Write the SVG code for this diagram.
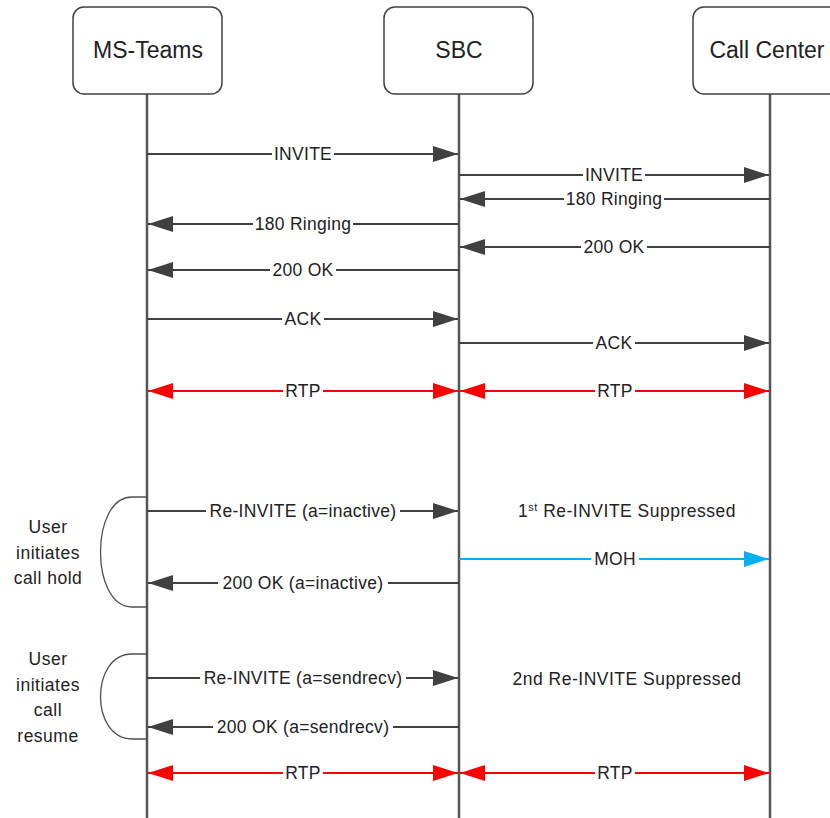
<svg xmlns="http://www.w3.org/2000/svg" width="830" height="818" viewBox="0 0 830 818">
<defs>
<marker id="ag" viewBox="0 0 25 16" refX="25" refY="8" markerWidth="25" markerHeight="16" markerUnits="userSpaceOnUse" orient="auto-start-reverse"><path d="M0,0 L25,8 L0,16 z" fill="#404040"/></marker>
<marker id="ar" viewBox="0 0 25 16" refX="25" refY="8" markerWidth="25" markerHeight="16" markerUnits="userSpaceOnUse" orient="auto-start-reverse"><path d="M0,0 L25,8 L0,16 z" fill="#ff0000"/></marker>
<marker id="ab" viewBox="0 0 25 16" refX="25" refY="8" markerWidth="25" markerHeight="16" markerUnits="userSpaceOnUse" orient="auto-start-reverse"><path d="M0,0 L25,8 L0,16 z" fill="#00b0f0"/></marker>
</defs>
<style>
.box{fill:#fff;stroke:#404040;stroke-width:1.5}
.life{stroke:#555;stroke-width:2.5}
.msg{stroke:#404040;stroke-width:2;fill:none}
.rtp{stroke:#ff0000;stroke-width:2;fill:none}
.moh{stroke:#00b0f0;stroke-width:2;fill:none}
.brace{stroke:#505050;stroke-width:1.3;fill:none}
.bg{fill:#fff}
text{font-family:"Liberation Sans","Open Sans",sans-serif;fill:#222}
.title{font-size:23px;text-anchor:middle}
.lbl{font-size:17.5px;text-anchor:middle;letter-spacing:0.3px}
.note{font-size:17.5px;text-anchor:middle;letter-spacing:0.5px}
</style>
<rect width="830" height="818" fill="#fff"/>
<g id="lifelines">
<line class="life" x1="147" y1="93" x2="147" y2="818"/>
<line class="life" x1="459" y1="93" x2="459" y2="818"/>
<line class="life" x1="770" y1="93" x2="770" y2="818"/>
</g>
<g id="ms-teams"><rect class="box" x="73" y="7" width="149" height="87" rx="11"/><text class="title" x="148" y="58">MS-Teams</text></g>
<g id="sbc"><rect class="box" x="384" y="7" width="149" height="87" rx="11"/><text class="title" x="459" y="58">SBC</text></g>
<g id="call-center"><rect class="box" x="693" y="7" width="149" height="87" rx="11"/><text class="title" x="767" y="58">Call Center</text></g>
<g id="connectors">
<line class="msg" x1="147" y1="154" x2="458" y2="154" marker-end="url(#ag)"/>
<rect class="bg" x="272" y="146" width="62" height="16"/><text class="lbl" x="303" y="160">INVITE</text>
<line class="msg" x1="459" y1="175" x2="769" y2="175" marker-end="url(#ag)"/>
<rect class="bg" x="583" y="167" width="62" height="16"/><text class="lbl" x="614" y="181">INVITE</text>
<line class="msg" x1="770" y1="199" x2="460" y2="199" marker-end="url(#ag)"/>
<rect class="bg" x="564" y="191" width="100" height="16"/><text class="lbl" x="614" y="205">180 Ringing</text>
<line class="msg" x1="459" y1="224" x2="148" y2="224" marker-end="url(#ag)"/>
<rect class="bg" x="253" y="216" width="100" height="16"/><text class="lbl" x="303" y="230">180 Ringing</text>
<line class="msg" x1="770" y1="247" x2="460" y2="247" marker-end="url(#ag)"/>
<rect class="bg" x="581" y="239" width="66" height="16"/><text class="lbl" x="614" y="253">200 OK</text>
<line class="msg" x1="459" y1="270" x2="148" y2="270" marker-end="url(#ag)"/>
<rect class="bg" x="270" y="262" width="66" height="16"/><text class="lbl" x="303" y="276">200 OK</text>
<line class="msg" x1="147" y1="319" x2="458" y2="319" marker-end="url(#ag)"/>
<rect class="bg" x="282" y="311" width="42" height="16"/><text class="lbl" x="303" y="325">ACK</text>
<line class="msg" x1="459" y1="343" x2="769" y2="343" marker-end="url(#ag)"/>
<rect class="bg" x="593" y="335" width="42" height="16"/><text class="lbl" x="614" y="349">ACK</text>
<line class="rtp" x1="148" y1="391" x2="458" y2="391" marker-start="url(#ar)" marker-end="url(#ar)"/>
<rect class="bg" x="283" y="383" width="40" height="16"/><text class="lbl" x="303" y="397">RTP</text>
<line class="rtp" x1="460" y1="391" x2="769" y2="391" marker-start="url(#ar)" marker-end="url(#ar)"/>
<rect class="bg" x="595" y="383" width="40" height="16"/><text class="lbl" x="615" y="397">RTP</text>
<line class="msg" x1="147" y1="511" x2="458" y2="511" marker-end="url(#ag)"/>
<rect class="bg" x="206" y="503" width="194" height="16"/><text class="lbl" x="303" y="517">Re-INVITE (a=inactive)</text>
<line class="moh" x1="459" y1="559" x2="769" y2="559" marker-end="url(#ab)"/>
<rect class="bg" x="591" y="551" width="48" height="16"/><text class="lbl" x="615" y="565">MOH</text>
<line class="msg" x1="459" y1="583" x2="148" y2="583" marker-end="url(#ag)"/>
<rect class="bg" x="218" y="575" width="170" height="16"/><text class="lbl" x="303" y="589">200 OK (a=inactive)</text>
<line class="msg" x1="147" y1="678" x2="458" y2="678" marker-end="url(#ag)"/>
<rect class="bg" x="200" y="670" width="206" height="16"/><text class="lbl" x="303" y="684">Re-INVITE (a=sendrecv)</text>
<line class="msg" x1="459" y1="727" x2="148" y2="727" marker-end="url(#ag)"/>
<rect class="bg" x="213" y="719" width="180" height="16"/><text class="lbl" x="303" y="733">200 OK (a=sendrecv)</text>
<line class="rtp" x1="148" y1="773" x2="458" y2="773" marker-start="url(#ar)" marker-end="url(#ar)"/>
<rect class="bg" x="283" y="765" width="40" height="16"/><text class="lbl" x="303" y="779">RTP</text>
<line class="rtp" x1="460" y1="773" x2="769" y2="773" marker-start="url(#ar)" marker-end="url(#ar)"/>
<rect class="bg" x="595" y="765" width="40" height="16"/><text class="lbl" x="615" y="779">RTP</text>
</g>
<g id="suppressed-1"><text class="note" x="627" y="517">1<tspan font-size="11" dy="-6">st</tspan><tspan dy="6"> Re-INVITE Suppressed</tspan></text></g>
<g id="suppressed-2"><text class="note" x="627" y="685">2nd Re-INVITE Suppressed</text></g>
<g id="hold">
<path class="brace" d="M147,497 H132 C90,497 90,607 132,607 H147"/>
<text class="note" x="48" y="533">User</text>
<text class="note" x="48" y="559">initiates</text>
<text class="note" x="48" y="584">call hold</text>
</g>
<g id="resume">
<path class="brace" d="M147,654 H132 C90,654 90,739 132,739 H147"/>
<text class="note" x="48" y="665">User</text>
<text class="note" x="48" y="691">initiates</text>
<text class="note" x="48" y="716">call</text>
<text class="note" x="48" y="742">resume</text>
</g>
</svg>
